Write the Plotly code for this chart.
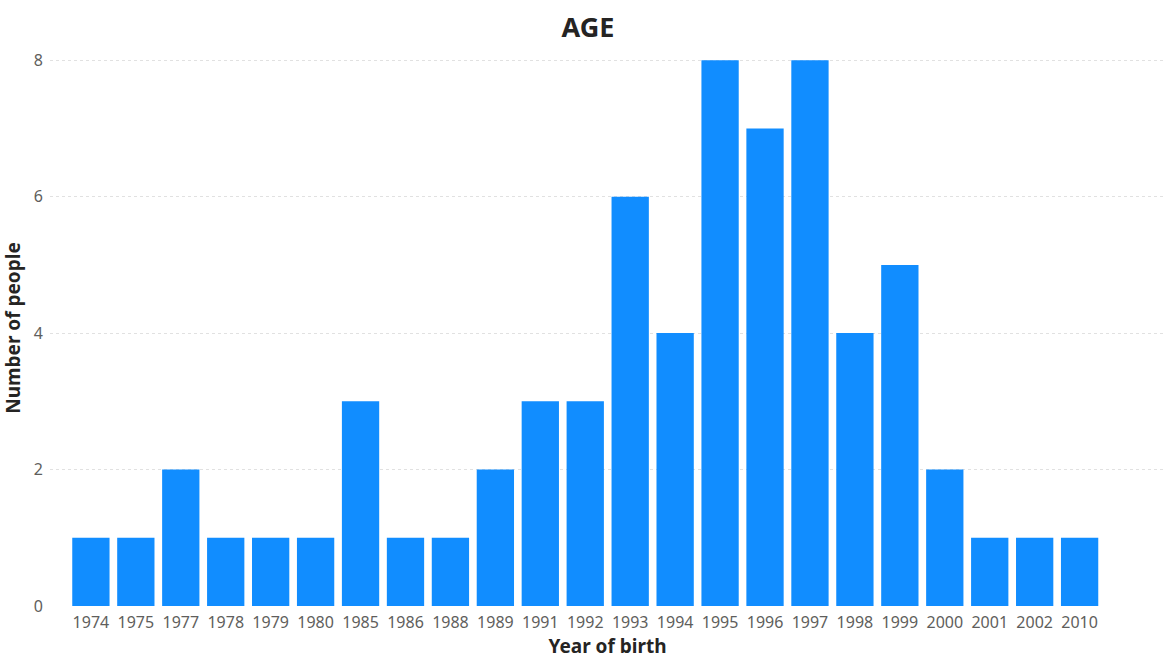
import plotly.graph_objects as go

years = ["1974", "1975", "1977", "1978", "1979", "1980", "1985", "1986", "1988", "1989",
         "1991", "1992", "1993", "1994", "1995", "1996", "1997", "1998", "1999", "2000",
         "2001", "2002", "2010"]
people = [1, 1, 2, 1, 1, 1, 3, 1, 1, 2, 3, 3, 6, 4, 8, 7, 8, 4, 5, 2, 1, 1, 1]
y_ticks = [0, 2, 4, 6, 8]

fig = go.Figure(go.Bar(x=years, y=people, marker_color="#118DFF",
                       marker_line_width=0))

fig.update_layout(
    width=1169, height=662,
    margin=dict(l=50, r=4, t=50, b=56),
    paper_bgcolor="white", plot_bgcolor="white",
    bargap=0.17,
    showlegend=False,
    title=dict(text="<b>AGE</b>", x=0.503, xanchor="center", y=0.958, yanchor="middle",
               font=dict(family="Noto Sans", size=27, color="#252423")),
    font=dict(family="Noto Sans", color="#605E5C"),
)
fig.update_xaxes(
    type="category", range=[-0.91, 23.9],
    tickfont=dict(size=16, color="#605E5C"),
    ticklabelstandoff=5,
    title=dict(text="<b>Year of birth</b>", standoff=4,
               font=dict(size=19, color="#252423")),
    showgrid=False, showline=False, ticks="",
)
fig.update_yaxes(
    range=[0, 8.15], tickvals=y_ticks,
    tickfont=dict(size=16, color="#605E5C"),
    title=dict(text="<b>Number of people</b>", standoff=8,
               font=dict(size=19, color="#252423")),
    showgrid=True, gridcolor="#E1E1E1", griddash="dot", gridwidth=1,
    zeroline=False, ticks="", ticklabelstandoff=6,
)

fig.write_html("out.html")
